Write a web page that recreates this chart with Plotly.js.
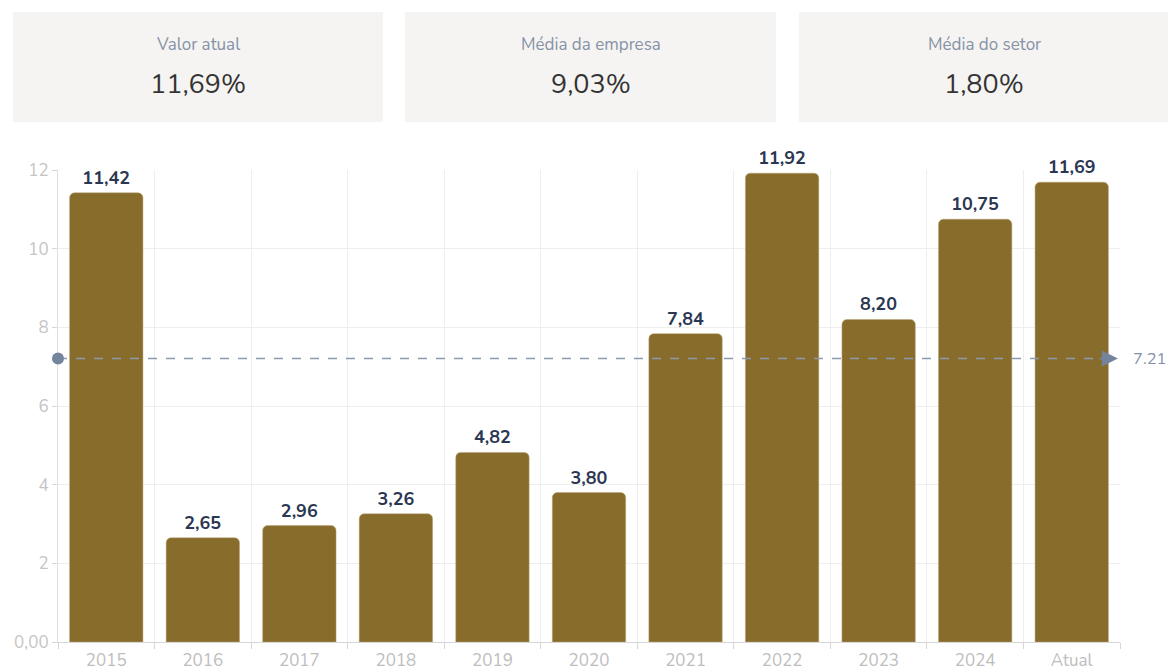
<!DOCTYPE html>
<html><head><meta charset="utf-8">
<script src="https://cdn.plot.ly/plotly-3.0.1.min.js"></script>
<style>html,body{margin:0;padding:0;background:#fff;}#chart{width:1168px;height:671px;}</style>
</head><body><div id="chart"></div>
<script>
const categories = ["2015","2016","2017","2018","2019","2020","2021","2022","2023","2024","Atual"];
const values = [11.42,2.65,2.96,3.26,4.82,3.80,7.84,11.92,8.20,10.75,11.69];
const averageValue = 7.21;
const averageLabel = "7.21";
const yTickVals = [0,2,4,6,8,10,12];
const yTickText = ["0,00","2","4","6","8","10","12"];
const cardTitles = ["Valor atual","Média da empresa","Média do setor"];
const cardValues = ["11,69%","9,03%","1,80%"];

const W = 1168, H = 671;
const mL = 58, mR = 48, mT = 170, mB = 29;
const pw = W - mL - mR, ph = H - mT - mB;
const px = x => (x - mL) / pw;
const py = y => (H - mB - y) / ph;

const fontFam = "Nunito, Lato, 'Open Sans', sans-serif";
const labels = values.map(v => v.toFixed(2).replace('.', ','));

const shapes = [];
const annotations = [];
const cardX = [[13,383],[405,776],[799,1169]];
cardX.forEach((c, i) => {
  shapes.push({type:'rect', xref:'paper', yref:'paper', x0:px(c[0]), x1:px(c[1]), y0:py(122), y1:py(12),
    fillcolor:'#f5f4f2', line:{width:0}, layer:'below'});
  const cx = px((c[0]+c[1])/2);
  annotations.push({xref:'paper', yref:'paper', x:cx, y:py(45), text:cardTitles[i], showarrow:false,
    font:{family:fontFam, size:17, color:'#8592a6'}, xanchor:'center', yanchor:'middle'});
  annotations.push({xref:'paper', yref:'paper', x:cx, y:py(84), text:cardValues[i], showarrow:false,
    font:{family:fontFam, size:27, color:'#333333'}, xanchor:'center', yanchor:'middle'});
});
// average line
shapes.push({type:'line', xref:'paper', yref:'y', x0:0, x1:0.985, y0:averageValue, y1:averageValue,
  line:{color:'#8a9ab0', width:1.5, dash:'dash'}, layer:'above'});
shapes.push({type:'circle', xref:'paper', yref:'y', xsizemode:'pixel', ysizemode:'pixel',
  xanchor:0, yanchor:averageValue, x0:-6, x1:6, y0:-6, y1:6, fillcolor:'#74849c', line:{width:0}});
annotations.push({xref:'paper', yref:'y', x:0.998, y:averageValue, ax:-20, ay:0, text:'', showarrow:true,
  arrowhead:2, arrowsize:1.6, arrowwidth:2, arrowcolor:'#74849c'});
annotations.push({xref:'paper', yref:'y', x:1.01, y:averageValue, text:averageLabel, showarrow:false,
  xanchor:'left', yanchor:'middle', font:{family:fontFam, size:16.5, color:'#8592a6'}});

const trace = {
  type:'bar', x:categories, y:values, text:labels, textposition:'outside', cliponaxis:false,
  textfont:{family:fontFam, size:18, color:'#2b3752', weight:'bold'},
  marker:{color:'#886c2b', cornerradius:5, line:{color:'#b9a77a', width:0.5}},
  hoverinfo:'x+y'
};

const layout = {
  width:W, height:H, margin:{l:mL, r:mR, t:mT, b:mB}, bargap:0.24,
  paper_bgcolor:'#ffffff', plot_bgcolor:'#ffffff', showlegend:false,
  font:{family:fontFam},
  xaxis:{type:'category', tickson:'boundaries', showgrid:true, gridcolor:'#eeeeee', gridwidth:1,
    ticks:'outside', ticklen:6, tickcolor:'#d6d6d6', showline:true, linecolor:'#d6d6d6', linewidth:1,
    ticklabelstandoff:3,
    tickfont:{family:fontFam, size:17, color:'#bdbdbd'}, fixedrange:true},
  yaxis:{range:[0,12], tickvals:yTickVals, ticktext:yTickText, showgrid:true, gridcolor:'#eeeeee',
    ticks:'outside', ticklen:5, tickcolor:'#d6d6d6', showline:true, linecolor:'#e0e0e0', zeroline:false,
    tickfont:{family:fontFam, size:17, color:'#c4c4c4'}, fixedrange:true},
  shapes:shapes, annotations:annotations
};
Plotly.newPlot('chart', [trace], layout, {displayModeBar:false, staticPlot:true});
</script></body></html>
